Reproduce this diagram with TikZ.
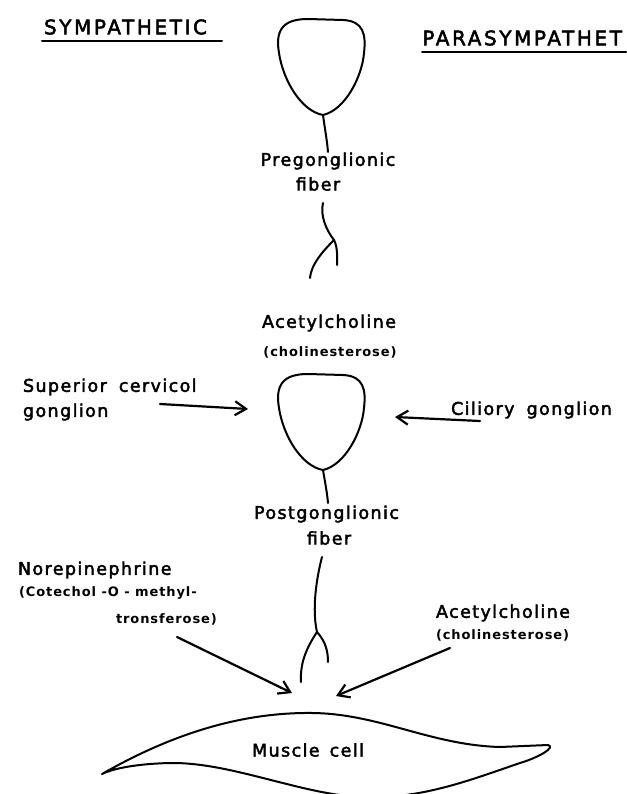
\documentclass[tikz,border=0pt]{standalone}
\usepackage{fontspec}
\setmainfont{DejaVu Sans}
\newfontfamily\lfont{DejaVu Sans}[LetterSpace=8,FakeBold=2.5]
\newfontfamily\hfont{DejaVu Sans}[LetterSpace=13,FakeBold=2.5]
\newfontfamily\hpfont{DejaVu Sans}[LetterSpace=13,FakeBold=2.5]
\newfontfamily\sfont{DejaVu Sans Bold}[LetterSpace=7]
\usetikzlibrary{arrows.meta}
\tikzset{
  cellbody/.pic={
    \draw (0,0) .. controls (-22,-4) and (-40,-35) .. (-44,-62)
      .. controls (-48,-85) and (-40,-96) .. (-15,-96) -- (20,-95)
      .. controls (41,-94) and (43,-80) .. (41,-62)
      .. controls (39,-38) and (22,-5) .. (0,0) -- cycle;
  }
}
\begin{document}
\begin{tikzpicture}[x=1pt,y=-1pt,
  line width=2pt, line cap=round, line join=round,
  lab/.style={inner sep=0pt, font=\lfont\fontsize{17.5}{19}\selectfont},
  sml/.style={inner sep=0pt, font=\sfont\fontsize{13}{15}\selectfont},
  head/.style={inner sep=0pt, font=\hfont\fontsize{20}{22}\selectfont},
  headp/.style={inner sep=0pt, font=\hpfont\fontsize{20}{22}\selectfont},
  arr/.style={line width=2.2pt, -{Straight Barb[length=11pt,width=14pt,line width=2.2pt]}},
]
\useasboundingbox (0,0) rectangle (626,794);
\fill[white] (0,0) rectangle (626,794);

% headings
\node[head, anchor=west] (sym) at (43,27) {SYMPATHETIC};
\draw (42,41) -- (222,41);
\node[headp, anchor=east] (para) at (623,38) {PARASYMPATHET};
\draw (422,52) -- (626,52);

% top cell
\pic at (323,115) {cellbody};
\draw (323,115) .. controls (325,130) and (327,140) .. (328,152);
\node[lab] (pre) at (328,161) {Pregonglionic};
\node[lab] (pref) at (318,184) {fiber};
\coordinate (b1) at (334,240);
\draw (323,203) .. controls (320,215) and (326,230) .. (b1);
\draw (b1) .. controls (322,252) and (311,265) .. (310,278);
\draw (b1) .. controls (338,248) and (337,258) .. (337,265);

% ganglion
\node[lab] (ach1) at (329,323) {Acetylcholine};
\node[sml] (che1) at (330,352) {(cholinesterose)};
\pic at (323,470) {cellbody};
\draw (323,470) .. controls (325,482) and (327,492) .. (328,503);

\node[lab, anchor=west] (sup1) at (22,387) {Superior\hspace{12pt}cervicol};
\node[lab, anchor=west] (sup2) at (22,412) {gonglion};
\coordinate (s1) at (160,404);
\coordinate (s2) at (248,409);
\draw[arr] (s1) -- (s2);

\node[lab] (cil) at (531.5,410) {Ciliory\hspace{12pt}gonglion};
\coordinate (c1) at (480,421);
\coordinate (c2) at (395,417);
\draw[arr] (c1) -- (c2);

\node[lab] (post) at (326.5,514) {Postgonglionic};
\node[lab] (postf) at (329,538) {fiber};
\coordinate (b2) at (317,632);
\draw (322,557) .. controls (316,580) and (312,610) .. (b2);
\draw (b2) .. controls (305,650) and (300,665) .. (301,682);
\draw (b2) .. controls (326,642) and (328,652) .. (328,662);

% transmitters
\node[lab, anchor=west] (nor) at (17,570) {Norepinephrine};
\node[sml, anchor=west] (cat1) at (18,593) {(Cotechol -O - methyl-};
\node[sml, anchor=west] (cat2) at (115,619) {tronsferose)};
\coordinate (n1) at (177,637);
\coordinate (n2) at (292,693);
\draw[arr] (n1) -- (n2);

\node[lab, anchor=west] (ach2) at (435,613) {Acetylcholine};
\node[sml, anchor=west] (che2) at (435,635) {(cholinesterose)};
\coordinate (r1) at (450,648);
\coordinate (r2) at (336,696);
\draw[arr] (r1) -- (r2);

% muscle cell
\draw (102,774) .. controls (170,735) and (240,712) .. (313,713)
  .. controls (380,714) and (430,745) .. (500,747) -- (548,745)
  .. controls (556,747) and (540,757) .. (520,763)
  .. controls (470,780) and (420,800) .. (360,797)
  .. controls (300,794) and (230,762) .. (170,763)
  .. controls (130,764) and (110,770) .. (102,774) -- cycle;
\node[lab] (mus) at (308,750) {Muscle\hspace{10pt}cell};
\end{tikzpicture}
\end{document}
